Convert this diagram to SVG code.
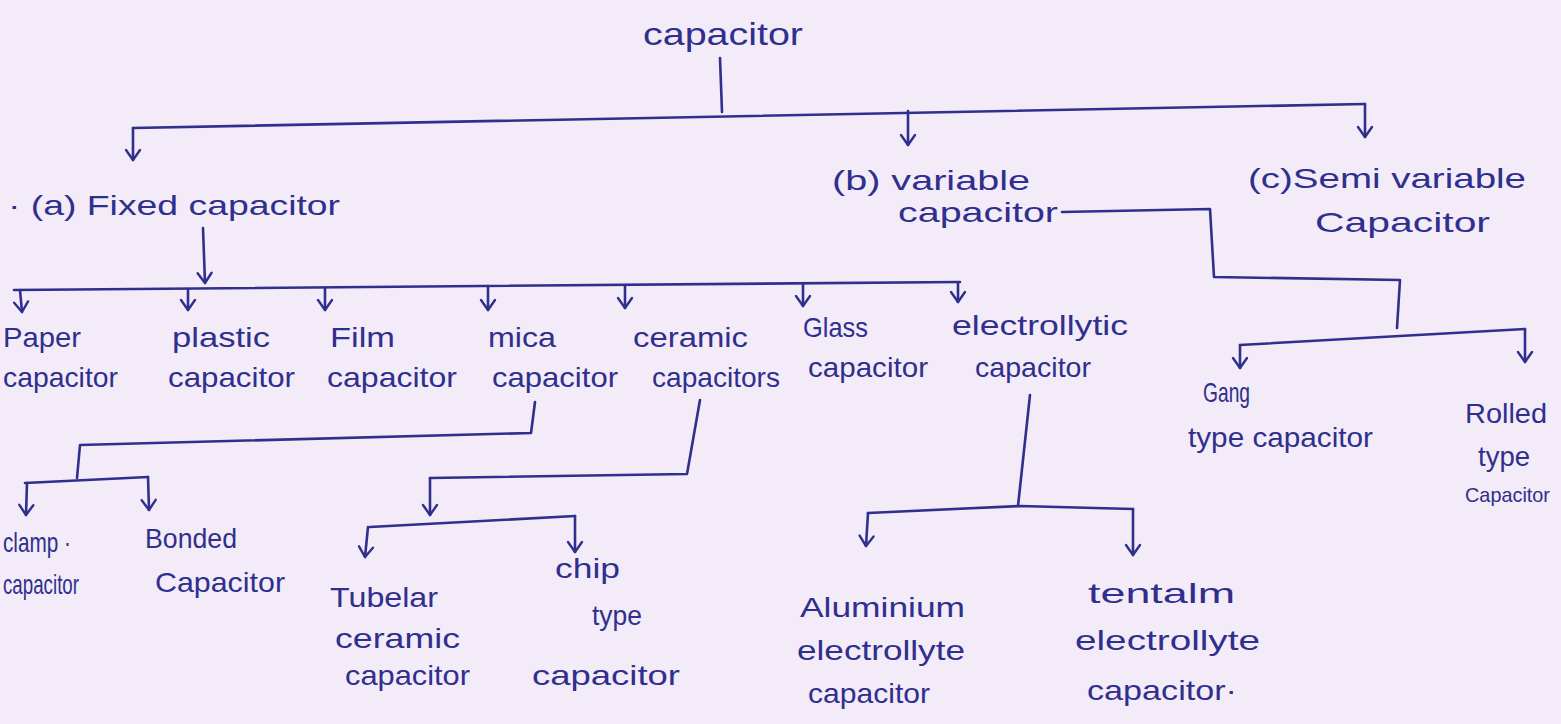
<svg xmlns="http://www.w3.org/2000/svg" width="1561" height="724" viewBox="0 0 1561 724">
<defs>
<style>
.bg{fill:#f3ebf7}
.ln{fill:none;stroke:#2f2f8e;stroke-width:2.6;stroke-linecap:round;stroke-linejoin:round}
.ar{marker-end:url(#v)}
text{font-family:"Liberation Sans","DejaVu Sans",sans-serif;fill:#2f2f8e;font-size:28px}
.big{font-size:32px}
.sm{font-size:21px}
</style>
<marker id="v" viewBox="-12 -10 14 20" refX="0" refY="0" markerWidth="14" markerHeight="20" markerUnits="userSpaceOnUse" orient="auto" overflow="visible">
<path d="M-10,-7 L0,0 L-10,7" fill="none" stroke="#2f2f8e" stroke-width="2.4" stroke-linecap="round" stroke-linejoin="round"/>
</marker>
</defs>
<rect class="bg" x="0" y="0" width="1561" height="724"/>

<g id="connectors">
<path class="ln" d="M720,58 L722,112"/>
<path class="ln" d="M133,128 L1365,104"/>
<path class="ln ar" d="M133,128 L133,160"/>
<path class="ln ar" d="M908,111 L908,145"/>
<path class="ln ar" d="M1365,104 L1365,137"/>

<path class="ln ar" d="M203,228 L205,283"/>
<path class="ln" d="M14,290 L960,282"/>
<path class="ln ar" d="M20,290 L22,312"/>
<path class="ln ar" d="M188,289 L188,310"/>
<path class="ln ar" d="M325,288 L325,310"/>
<path class="ln ar" d="M488,286 L488,310"/>
<path class="ln ar" d="M625,285 L625,308"/>
<path class="ln ar" d="M803,284 L803,306"/>
<path class="ln ar" d="M958,283 L958,302"/>

<path class="ln" d="M535,402 L531,433 L80,445 L77,478"/>
<path class="ln" d="M25,483 L148,477"/>
<path class="ln ar" d="M27,483 L26,515"/>
<path class="ln ar" d="M148,477 L149,510"/>

<path class="ln" d="M700,400 L687,474 L430,478"/>
<path class="ln ar" d="M430,478 L430,515"/>
<path class="ln" d="M370,527 L575,516"/>
<path class="ln ar" d="M368,527 L365,557"/>
<path class="ln ar" d="M575,516 L575,552"/>

<path class="ln" d="M1062,212 L1210,209 L1214,277 L1400,280 L1397,328"/>
<path class="ln" d="M1240,345 L1525,329"/>
<path class="ln ar" d="M1240,345 L1240,368"/>
<path class="ln ar" d="M1525,329 L1525,362"/>

<path class="ln" d="M1030,395 L1018,506"/>
<path class="ln" d="M868,513 L1020,506 L1133,509"/>
<path class="ln ar" d="M868,513 L866,546"/>
<path class="ln ar" d="M1133,509 L1133,555"/>
</g>

<g id="capacitor"><text class="big" x="643" y="45" textLength="160" lengthAdjust="spacingAndGlyphs">capacitor</text></g>
<g id="fixed"><text x="8" y="215" textLength="332" lengthAdjust="spacingAndGlyphs">· (a) Fixed capacitor</text></g>
<g id="variable"><text x="832" y="190" textLength="198" lengthAdjust="spacingAndGlyphs">(b) variable</text><text x="898" y="222" textLength="160" lengthAdjust="spacingAndGlyphs">capacitor</text></g>
<g id="semivariable"><text x="1248" y="188" textLength="278" lengthAdjust="spacingAndGlyphs">(c)Semi variable</text><text x="1315" y="232" textLength="175" lengthAdjust="spacingAndGlyphs">Capacitor</text></g>

<g id="paper"><text x="3" y="347" textLength="78" lengthAdjust="spacingAndGlyphs">Paper</text><text x="3" y="387" textLength="115" lengthAdjust="spacingAndGlyphs">capacitor</text></g>
<g id="plastic"><text x="172" y="347" textLength="98" lengthAdjust="spacingAndGlyphs">plastic</text><text x="168" y="387" textLength="127" lengthAdjust="spacingAndGlyphs">capacitor</text></g>
<g id="film"><text x="330" y="347" textLength="65" lengthAdjust="spacingAndGlyphs">Film</text><text x="327" y="387" textLength="130" lengthAdjust="spacingAndGlyphs">capacitor</text></g>
<g id="mica"><text x="488" y="347" textLength="68" lengthAdjust="spacingAndGlyphs">mica</text><text x="492" y="387" textLength="126" lengthAdjust="spacingAndGlyphs">capacitor</text></g>
<g id="ceramic"><text x="633" y="347" textLength="115" lengthAdjust="spacingAndGlyphs">ceramic</text><text x="652" y="387" textLength="128" lengthAdjust="spacingAndGlyphs">capacitors</text></g>
<g id="glass"><text x="803" y="337" textLength="65" lengthAdjust="spacingAndGlyphs">Glass</text><text x="808" y="377" textLength="120" lengthAdjust="spacingAndGlyphs">capacitor</text></g>
<g id="electrolytic"><text x="952" y="335" textLength="176" lengthAdjust="spacingAndGlyphs">electrollytic</text><text x="975" y="377" textLength="116" lengthAdjust="spacingAndGlyphs">capacitor</text></g>

<g id="clamp"><text x="3" y="552" textLength="68" lengthAdjust="spacingAndGlyphs">clamp ·</text><text x="3" y="594" textLength="76" lengthAdjust="spacingAndGlyphs">capacitor</text></g>
<g id="bonded"><text x="145" y="548" textLength="92" lengthAdjust="spacingAndGlyphs">Bonded</text><text x="155" y="592" textLength="130" lengthAdjust="spacingAndGlyphs">Capacitor</text></g>
<g id="tubelar"><text x="330" y="607" textLength="108" lengthAdjust="spacingAndGlyphs">Tubelar</text><text x="335" y="648" textLength="125" lengthAdjust="spacingAndGlyphs">ceramic</text><text x="345" y="685" textLength="125" lengthAdjust="spacingAndGlyphs">capacitor</text></g>
<g id="chip"><text x="555" y="578" textLength="65" lengthAdjust="spacingAndGlyphs">chip</text><text x="592" y="625" textLength="50" lengthAdjust="spacingAndGlyphs">type</text><text x="532" y="685" textLength="148" lengthAdjust="spacingAndGlyphs">capacitor</text></g>

<g id="gang"><text x="1203" y="402" textLength="47" lengthAdjust="spacingAndGlyphs">Gang</text><text x="1188" y="447" textLength="185" lengthAdjust="spacingAndGlyphs">type capacitor</text></g>
<g id="rolled"><text x="1465" y="423" textLength="82" lengthAdjust="spacingAndGlyphs">Rolled</text><text x="1478" y="466" textLength="52" lengthAdjust="spacingAndGlyphs">type</text><text class="sm" x="1465" y="502" textLength="85" lengthAdjust="spacingAndGlyphs">Capacitor</text></g>

<g id="aluminium"><text x="800" y="617" textLength="165" lengthAdjust="spacingAndGlyphs">Aluminium</text><text x="797" y="660" textLength="168" lengthAdjust="spacingAndGlyphs">electrollyte</text><text x="808" y="703" textLength="122" lengthAdjust="spacingAndGlyphs">capacitor</text></g>
<g id="tentalm"><text x="1088" y="603" textLength="147" lengthAdjust="spacingAndGlyphs">tentalm</text><text x="1075" y="650" textLength="185" lengthAdjust="spacingAndGlyphs">electrollyte</text><text x="1087" y="700" textLength="150" lengthAdjust="spacingAndGlyphs">capacitor·</text></g>
</svg>
